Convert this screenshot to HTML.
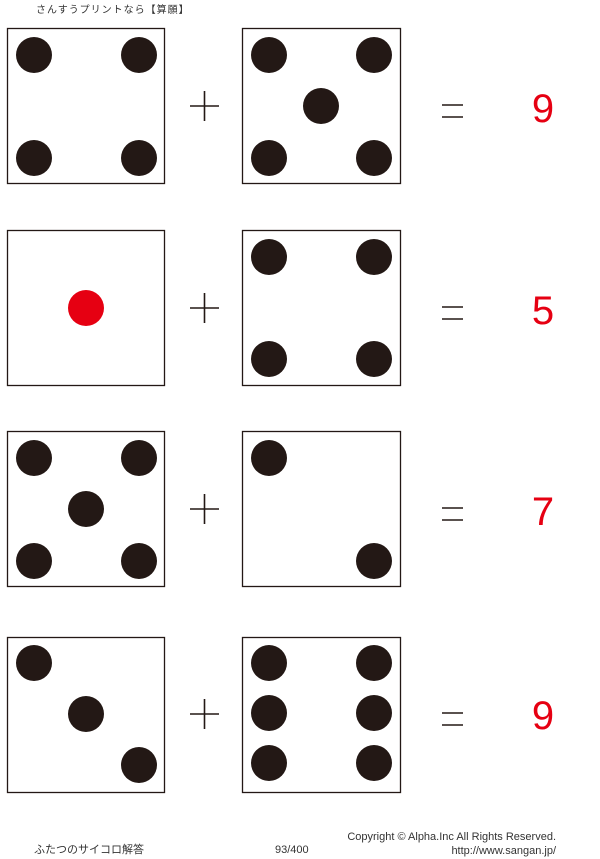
<!DOCTYPE html>
<html><head><meta charset="utf-8"><style>
html,body{margin:0;padding:0;background:#fff}
svg{display:block}
</style></head><body>
<svg width="600" height="859" viewBox="0 0 600 859" xmlns="http://www.w3.org/2000/svg">
<text x="36" y="13" font-family="'Liberation Sans','Noto Sans CJK JP',sans-serif" font-size="10" fill="#333" letter-spacing="1">さんすうプリントなら【算願】</text>
<g fill="none" stroke="#231815" stroke-width="1.3">
<rect x="7.5" y="28.5" width="157" height="155"/><rect x="242.5" y="28.5" width="158" height="155"/>
<rect x="7.5" y="230.5" width="157" height="155"/><rect x="242.5" y="230.5" width="158" height="155"/>
<rect x="7.5" y="431.5" width="157" height="155"/><rect x="242.5" y="431.5" width="158" height="155"/>
<rect x="7.5" y="637.5" width="157" height="155"/><rect x="242.5" y="637.5" width="158" height="155"/>
</g>
<g fill="#231815">
<circle cx="34" cy="55" r="18"/><circle cx="139" cy="55" r="18"/><circle cx="34" cy="158" r="18"/><circle cx="139" cy="158" r="18"/>
<circle cx="269" cy="55" r="18"/><circle cx="374" cy="55" r="18"/><circle cx="321" cy="106" r="18"/><circle cx="269" cy="158" r="18"/><circle cx="374" cy="158" r="18"/>
<circle cx="269" cy="257" r="18"/><circle cx="374" cy="257" r="18"/><circle cx="269" cy="359" r="18"/><circle cx="374" cy="359" r="18"/>
<circle cx="34" cy="458" r="18"/><circle cx="139" cy="458" r="18"/><circle cx="86" cy="509" r="18"/><circle cx="34" cy="561" r="18"/><circle cx="139" cy="561" r="18"/>
<circle cx="269" cy="458" r="18"/><circle cx="374" cy="561" r="18"/>
<circle cx="34" cy="663" r="18"/><circle cx="86" cy="714" r="18"/><circle cx="139" cy="765" r="18"/>
<circle cx="269" cy="663" r="18"/><circle cx="374" cy="663" r="18"/><circle cx="269" cy="713" r="18"/><circle cx="374" cy="713" r="18"/><circle cx="269" cy="763" r="18"/><circle cx="374" cy="763" r="18"/>
</g>
<circle cx="86" cy="308" r="18" fill="#e60012"/>
<g stroke="#231815" stroke-width="1.6">
<path d="M190 106H219M204.5 91V121"/><path d="M190 308H219M204.5 293V323"/><path d="M190 509H219M204.5 494V524"/><path d="M190 714H219M204.5 699V729"/>
<path d="M442 105H463M442 117H463"/><path d="M442 307H463M442 319H463"/><path d="M442 508H463M442 520H463"/><path d="M442 713H463M442 725H463"/>
</g>
<g font-family="'Liberation Sans',sans-serif" font-size="40" fill="#e60012" text-anchor="middle">
<text x="543" y="122">9</text><text x="543" y="324">5</text><text x="543" y="525">7</text><text x="543" y="729">9</text>
</g>
<g font-family="'Liberation Sans','Noto Sans CJK JP',sans-serif" font-size="11" fill="#333">
<text x="34" y="853">ふたつのサイコロ解答</text>
<text x="275" y="853">93/400</text>
<text x="556" y="840" text-anchor="end">Copyright ©  Alpha.Inc All Rights Reserved.</text>
<text x="556" y="854" text-anchor="end">http://www.sangan.jp/</text>
</g>
</svg>
</body></html>
